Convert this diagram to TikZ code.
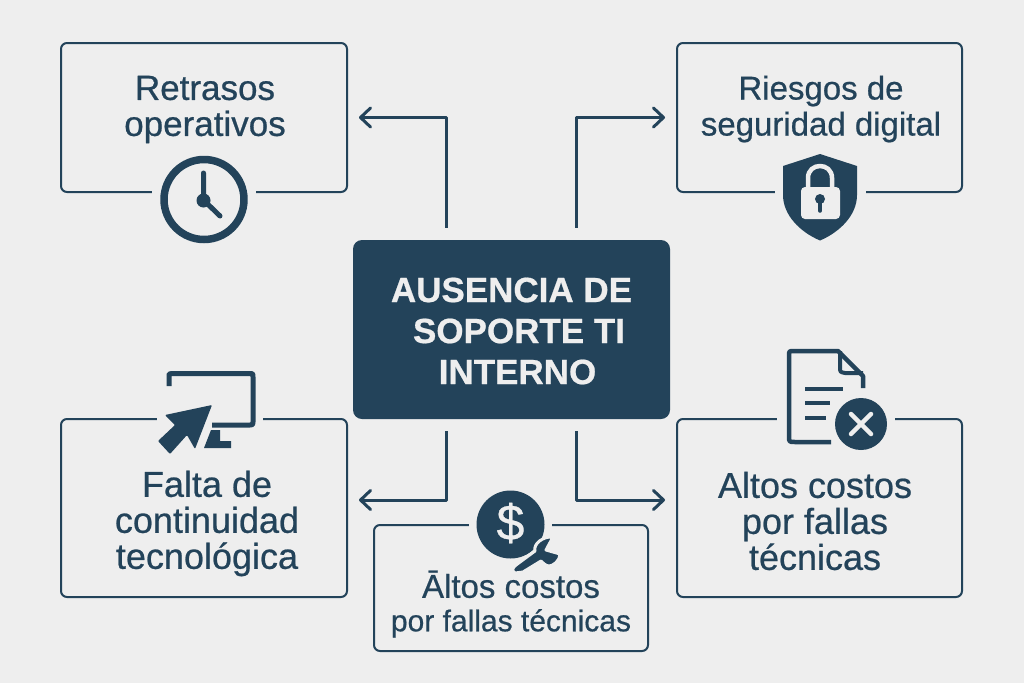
\documentclass[tikz,border=0pt]{standalone}
\usepackage{fontspec}
\setmainfont[RawFeature={embolden=0.6}]{Liberation Sans}
\usetikzlibrary{arrows.meta}
\definecolor{navy}{HTML}{23435A}
\definecolor{paper}{HTML}{EEEEEE}
\tikzset{
    panel/.style={draw=navy,line width=2pt,rounded corners=6pt,inner sep=0pt},
    caption/.style={text=navy,align=center,font=\fontsize{#1}{36}\selectfont},
    flow/.style={draw=navy,line width=3pt,->,shorten <=12pt,shorten >=11pt},
    gap/.style={fill=paper},
    stroke/.style={draw=navy,line cap=round,line join=round},
}
\begin{document}
\begin{tikzpicture}[x=1pt,y=-1pt,>={Straight Barb[round,length=10pt,width=19pt,line width=3pt]}, line join=round]
    \fill[paper] (0,0) rectangle (1024,683);
    \useasboundingbox (0,0) rectangle (1024,683);
    % boxes
    \node[panel,minimum width=286pt,minimum height=149pt] (retrasos) at (204,117.5) {};
    \node[panel,minimum width=285pt,minimum height=149pt] (riesgos) at (819.5,117.5) {};
    \node[panel,minimum width=286pt,minimum height=178pt] (falta) at (204,508) {};
    \node[panel,minimum width=285pt,minimum height=178pt] (costos) at (819.5,508) {};
    \node[panel,minimum width=274pt,minimum height=126pt] (fallas) at (511,588) {};
    \node[fill=navy,rounded corners=9pt,minimum width=317pt,minimum height=179pt,inner sep=0pt] (core) at (511.5,329.5) {};
    % texts
    \node[caption=35] (tretrasos) at (205,109.5) {Retrasos\\operativos};
    \node[caption=33] (triesgos) at (821,109) {Riesgos de\\seguridad digital};
    \node[caption=36] (tfalta) at (207,523.5) {Falta de\\continuidad\\tecnológica};
    \node[caption=36] (tcostos) at (815,521) {Altos costos\\por fallas\\técnicas};
    \node[caption=30,font=\fontsize{30}{33.5}\selectfont] (tfallas) at (511,604) {{\fontsize{33}{33.5}\selectfont Āltos costos}\\por fallas técnicas};
    \node[text=paper,align=center,font=\fontsize{35}{41}\selectfont\bfseries] (tcore) at (511.5,331) {AUSENCIA DE\\\hspace*{15pt}SOPORTE TI\\\hspace*{12pt}INTERNO};
    % connectors
    \draw[flow] ([xshift=-65.5pt]core.north) |- (retrasos.east);
    \draw[flow] ([xshift=64.5pt]core.north) |- (riesgos.west);
    \draw[flow] ([xshift=-65.5pt]core.south) |- ([yshift=8pt]falta.east);
    \draw[flow] ([xshift=64.5pt]core.south) |- ([yshift=8pt]costos.west);
    % clock
    \fill[gap] (152,186) rectangle (256,198);
    \draw[navy,line width=7.5pt] (204,199.5) circle (40pt);
    \draw[stroke,line width=5pt] (203.5,173) -- (203.5,200) -- (220,216);
    \fill[navy] (203.5,200.5) circle (7pt);
    % shield
    \fill[gap] (775,186) rectangle (866,198);
    \fill[navy] (820,154) -- (857,166) -- (857,195) .. controls (857,215) and (840,232) .. (820,240.5)
        .. controls (800,232) and (783,215) .. (783,195) -- (783,166) -- cycle;
    \draw[paper,line width=4.5pt] (808,188) -- (808,178) .. controls (808,162) and (832,162) .. (832,178) -- (832,188);
    \fill[paper,rounded corners=4pt] (801,187) rectangle (840,219);
    \fill[navy] (820,199) circle (5pt);
    \draw[navy,line width=3.5pt,line cap=round] (820,200) -- (820,211);
    % monitor and cursor
    \fill[gap] (157,412) rectangle (263,426);
    \draw[navy,line width=5pt] (169,386) -- (169,377) .. controls (169,373.5) .. (172,373.5) -- (249,373.5)
        .. controls (253,373.5) .. (253,377) -- (253,422) .. controls (253,425) .. (250,425) -- (212,425);
    \fill[navy] (211,430) -- (220,430) -- (220,441) -- (231,441) -- (231,448) -- (204,448) -- cycle;
    \fill[navy,rounded corners=1pt] (165,415) -- (212,405) -- (195,449) -- (187,435) -- (170,454) -- (158,441) -- (175,425) -- cycle;
    % document
    \fill[gap] (777,412) rectangle (895,426);
    \draw[navy,line width=4.5pt] (831,442) -- (795,442) .. controls (789,442) .. (789,436) -- (789,356)
        .. controls (789,351) .. (794,351) -- (838,351) -- (863,376) -- (863,388);
    \draw[navy,line width=4pt] (840,351) -- (840,367) .. controls (840,372) .. (845,373) -- (863,373);
    \draw[navy,line width=4.5pt] (805,389) -- (843,389) (805,403) -- (830,403) (805,418) -- (826,418);
    \fill[navy] (861,424) circle (26pt);
    \draw[paper,line width=4.5pt,line cap=round] (851,414) -- (871,434) (871,414) -- (851,434);
    % dollar and wrench
    \fill[gap] (469,518) rectangle (552,530);
    \fill[navy] (510.5,524.5) circle (34pt);
    \node[text=paper,font=\fontsize{50}{50}\selectfont] (dollar) at (510.5,523) {\$};
    \path[fill=navy,draw=paper,line width=3pt] (515,573) .. controls (511,571) and (513,567) .. (516,565) -- (535,551)
        .. controls (533,544) and (543,536) .. (553,537) -- (546,550) -- (560,554) .. controls (560,561) and (553,566) .. (549,566)
        .. controls (546,566) and (543,563) .. (541,561) -- (523,572) -- cycle;
\end{tikzpicture}
\end{document}
